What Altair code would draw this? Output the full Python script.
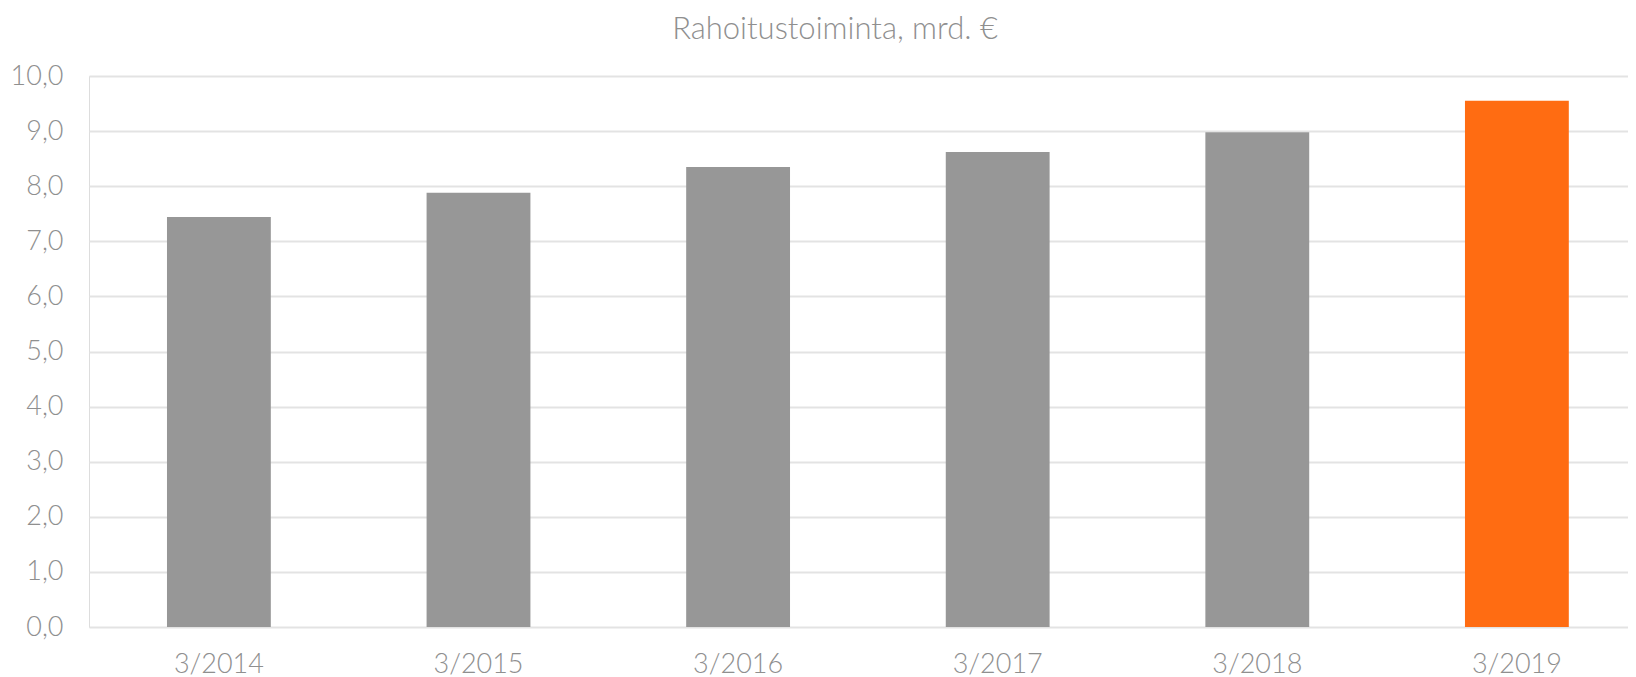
import altair as alt
import pandas as pd

categories = ["3/2014", "3/2015", "3/2016", "3/2017", "3/2018", "3/2019"]
values = [7.44, 7.88, 8.35, 8.62, 8.98, 9.55]
groups = ["past", "past", "past", "past", "past", "latest"]
y_ticks = [0, 1, 2, 3, 4, 5, 6, 7, 8, 9, 10]
title_text = "Rahoitustoiminta, mrd. €"

df = pd.DataFrame({"period": categories, "value": values, "group": groups})
title_df = pd.DataFrame({"t": [title_text]})

FONT = "Lato"
TEXT_COLOR = "#8f8f8f"

bars = alt.Chart(df).mark_bar().encode(
    x=alt.X(
        "period:N",
        sort=categories,
        scale=alt.Scale(paddingInner=0.6, paddingOuter=0.2642, align=0.5685),
        axis=alt.Axis(
            title=None, labelAngle=0, domain=False, ticks=False,
            labelPadding=24, labelFontSize=27, labelColor=TEXT_COLOR,
            labelFont=FONT, labelFontWeight=300,
        ),
    ),
    y=alt.Y(
        "value:Q",
        scale=alt.Scale(domain=[0, 10], nice=False, zero=True),
        axis=alt.Axis(
            title=None, values=y_ticks,
            labelExpr="replace(format(datum.value, '.1f'), '.', ',')",
            domain=False, ticks=False, labelPadding=26,
            labelFontSize=27, labelColor=TEXT_COLOR, labelFont=FONT,
            labelFontWeight=300,
            grid=True, gridColor="#e3e3e3", gridWidth=2,
        ),
    ),
    color=alt.Color(
        "group:N",
        scale=alt.Scale(domain=["past", "latest"], range=["#979797", "#ff6c12"]),
        legend=None,
    ),
)

title = alt.Chart(title_df).mark_text(
    font=FONT, fontSize=31, fontWeight=300, color=TEXT_COLOR,
    align="center", baseline="alphabetic",
).encode(
    text="t:N",
    x=alt.value(746),
    y=alt.value(-37),
)

chart = alt.layer(bars, title).properties(
    width=1539,
    height=551,
    autosize=alt.AutoSizeParams(type="none"),
    padding={"left": 81, "top": 68, "right": 0, "bottom": 50},
).configure_view(stroke=None).configure(background="white")

chart.save("out.html", embed_options={"renderer": "svg", "actions": False})
